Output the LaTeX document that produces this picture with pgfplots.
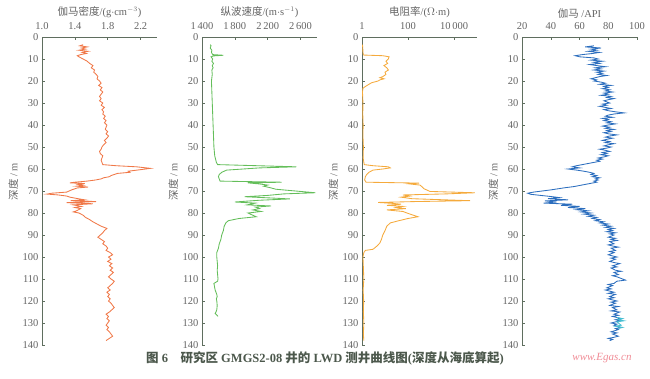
\documentclass[border=0pt]{standalone}
\usepackage{pgfplots}
\pgfplotsset{compat=1.18}
\usepackage{fontspec}
\setmainfont{Liberation Serif}
\newfontfamily\cjk{Noto Sans CJK SC}
\definecolor{axc}{RGB}{95,110,95}
\definecolor{txc}{RGB}{100,100,100}
\definecolor{cden}{RGB}{240,120,72}
\definecolor{cvel}{RGB}{100,190,90}
\definecolor{cres}{RGB}{245,170,60}
\definecolor{cgam}{RGB}{44,110,190}
\definecolor{ccyan}{RGB}{70,190,210}
\definecolor{wm}{RGB}{240,140,150}
\pgfplotsset{
  logpanel/.style={
    scale only axis, width=115pt, height=308pt,
    anchor=north west,
    ymin=0, ymax=140, y dir=reverse,
    ytick={0,10,...,140},
    axis x line*=top, axis y line*=left,
    axis line style={axc, line width=0.6pt, -},
    tick style={axc, line width=0.5pt},
    tick align=inside, major tick length=3pt,
    xminorticks=false, yminorticks=false,
    ticklabel style={font=\fontsize{10.5}{12}\selectfont, text=txc},
    /pgf/number format/assume math mode=true,
    xticklabel style={yshift=3.5pt},
    xlabel style={font=\fontsize{10.5}{12}\selectfont, text=txc, yshift=-2pt},
    ylabel={{\cjk 深度} / m},
    ylabel style={font=\fontsize{10.5}{12}\selectfont, text=txc, at={(axis description cs:-0.25,0.53)}, anchor=center, rotate=0},
    clip=false,
  }
}
\begin{document}
\begin{tikzpicture}
\useasboundingbox (0,0) rectangle (650pt,378pt);
% panel 1 density
\begin{axis}[logpanel, at={(42pt,341pt)},
  xmin=1, xmax=2.4, xtick={1,1.4,1.8,2.2}, xticklabels={1.0,1.4,1.8,2.2},
  xlabel={{\cjk 伽马密度}/(g$\cdot$cm$^{-3}$)}]
\addplot[cden, line width=0.85pt] coordinates {
(1.50,3.5)(1.46,4)(1.55,4.5)(1.48,5)(1.53,5.5)(1.45,6)(1.56,6.5)(1.49,7)(1.54,7.5)(1.47,8)(1.43,8.5)(1.45,9)(1.50,10)(1.55,11)(1.58,12)(1.62,13)(1.60,14)(1.64,15)(1.63,16)(1.66,17)(1.68,18)(1.67,19)(1.70,20)(1.72,21)(1.69,22)(1.73,23)(1.71,24)(1.74,25)(1.72,26)(1.70,27)(1.72,28)(1.70,29)(1.74,30)(1.72,31)(1.76,32)(1.73,33)(1.75,34)(1.74,35)(1.77,36)(1.75,37)(1.78,38)(1.76,39)(1.79,40)(1.78,41)(1.77,42)(1.80,43)(1.78,44)(1.81,45)(1.79,46)(1.76,47)(1.78,48)(1.75,49)(1.73,50)(1.72,51)(1.70,52)(1.71,53)(1.74,54)(1.73,55)(1.72,56)(1.73,57)(1.74,58)(1.90,58.5)(2.15,59)(2.32,59.7)(2.20,60.3)(2.05,61)(2.07,61.5)(1.92,62)(1.88,62.5)(1.84,63)(1.82,63.5)(1.75,64)(1.72,64.5)(1.65,65)(1.55,65.5)(1.40,66)(1.34,66.3)(1.52,66.6)(1.44,67)(1.50,67.4)(1.42,67.8)(1.56,68.2)(1.43,68.6)(1.36,69.5)(1.30,70.5)(1.12,71)(1.06,71.4)(1.20,71.8)(1.30,72.3)(1.34,72.8)(1.44,73.5)(1.52,74)(1.35,74.4)(1.66,74.8)(1.30,75.3)(1.62,75.8)(1.38,76.3)(1.48,77)(1.40,77.5)(1.47,78)(1.42,79)(1.38,79.5)(1.45,80)(1.50,81)(1.53,82)(1.58,83)(1.62,84)(1.67,85)(1.72,86)(1.79,87)(1.76,88)(1.74,89)(1.71,90)(1.68,91)(1.72,92)(1.76,93)(1.74,94)(1.78,95)(1.80,96)(1.78,97)(1.83,98)(1.86,99)(1.81,100)(1.84,101)(1.80,102)(1.85,103)(1.82,104)(1.86,105)(1.83,106)(1.87,107)(1.84,108)(1.81,109)(1.84,110)(1.88,111)(1.86,112)(1.83,113)(1.80,114)(1.83,115)(1.79,116)(1.82,117)(1.80,118)(1.83,119)(1.81,120)(1.84,121)(1.86,122)(1.88,123)(1.85,124)(1.82,125)(1.78,126)(1.81,127)(1.79,128)(1.82,129)(1.80,130)(1.78,131)(1.81,132)(1.79,133)(1.82,134)(1.84,135)(1.86,136)(1.82,137)(1.78,138)
};
\end{axis}
% panel 2 velocity
\begin{axis}[logpanel, at={(202pt,341pt)},
  xmin=1400, xmax=2800, xtick={1400,1800,2200,2600}, xticklabels={1\,400,1\,800,2\,200,2\,600},
  xlabel={{\cjk 纵波速度}/(m$\cdot$s$^{-1}$)}]
\addplot[cvel, line width=0.85pt] coordinates {
(1500,3.5)(1510,4)(1500,5)(1520,6)(1515,7)(1530,8)(1660,8.3)(1540,8.6)(1510,9)(1530,10)(1520,11)(1540,12)(1525,13)(1535,14)(1520,15)(1525,17)(1515,20)(1520,25)(1525,30)(1530,35)(1535,40)(1540,45)(1545,50)(1555,54)(1575,57)(1590,58)(2550,59)(2100,59.5)(1700,60.5)(1640,61.5)(1610,62.5)(1600,63.5)(1610,64.5)(1620,65.5)(2370,66)(1960,66.3)(2100,66.8)(2200,67.3)(2150,67.8)(2230,68.5)(2300,69.2)(2600,70.2)(2780,70.8)(2400,71.3)(2200,72)(1920,72.6)(2200,73.1)(2470,73.6)(2100,74.2)(1800,75)(2050,75.5)(1950,76.3)(2240,76.8)(2050,77.3)(2100,78)(2020,78.6)(2120,79.3)(1960,80)(2000,80.7)(2060,81.7)(1850,82.5)(1720,83.5)(1690,84.5)(1670,86)(1660,88)(1650,89)(1640,90)(1630,92)(1610,94)(1600,96)(1590,97)(1580,98)(1580,100)(1585,102)(1590,104)(1585,106)(1590,108)(1595,110)(1590,111)(1545,112)(1550,113)(1560,115)(1570,116)(1580,117)(1585,118)(1575,119)(1580,120)(1585,122)(1580,124)(1570,125)(1560,125.6)(1575,126.2)(1595,127)
};
\end{axis}
% panel 3 resistivity
\begin{axis}[logpanel, at={(362pt,341pt)},
  xmode=log, xmin=1, xmax=100000, xtick={1,100,10000}, xticklabels={1,100,10\,000},
  xlabel={{\cjk 电阻率}/($\Omega\cdot$m)}]
\addplot[cres, line width=0.85pt] coordinates {
(1.05,3.5)(1.08,5)(1.1,7)(1.15,8.2)(8,8.5)(15,9)(14,10)(11,11)(13,12)(9,13)(12,14)(14,15)(10,16)(11,17)(8,18)(6,18.5)(9,19)(6,19.5)(5,20)(2.6,20.8)(2,21.5)(1.4,22.5)(1.1,23.3)(1.05,25)(1.1,30)(1.08,35)(1.12,40)(1.1,45)(1.15,50)(1.12,55)(1.25,58)(3,58.5)(14,59)(17,59.5)(8,60)(3,60.5)(2,61.5)(1.6,62.5)(1.4,63.5)(1.3,65)(1.5,66)(300,66.4)(120,66.8)(330,67.3)(400,68)(500,69)(650,69.5)(900,70.2)(80000,70.8)(5000,71.3)(60,71.8)(120,72.3)(50,72.8)(150,73.5)(50000,74.4)(200,74.8)(5,75.2)(20,75.6)(50,76)(12,76.5)(60,77)(30,77.5)(80,78)(12,78.6)(60,79.3)(90,80)(150,80.8)(270,81.7)(100,82.5)(40,83.5)(17,84.5)(12,86)(10,88)(8,90)(7,92)(6,93.6)(4.5,95)(3,96.5)(1.4,97)(1.2,98)(1.1,100)(1.15,105)(1.2,110)(1.12,115)(1.18,120)(1.15,125)(1.2,130)(1.15,135)(1.2,138)
};
\end{axis}
% panel 4 gamma
\begin{axis}[logpanel, at={(522pt,341pt)},
  xmin=20, xmax=100, xtick={20,40,60,80,100},
  xlabel={{\cjk 伽马} /API}]
\addplot[cgam, line width=0.85pt] coordinates {
(70,4)(64,4.5)(75,5)(68,5.5)(72,6)(66,6.5)(74,7)(69,7.5)(62,8)(57,8.5)(60,9)(70,9.5)(73,10)(68,10.5)(76,11)(70,11.5)(74,12)(67,12.5)(72,13)(78,13.5)(71,14)(75,14.5)(70,15)(77,15.5)(72,16)(76,16.5)(73,17)(79,17.5)(74,18)(71,18.5)(68,19)(72,19.5)(70,20)(75,20.5)(78,21)(74,21.5)(82,22)(77,22.5)(80,23)(76,23.5)(81,24)(78,24.5)(83,25)(77,25.5)(80,26)(75,26.5)(82,27)(79,27.5)(84,28)(80,28.5)(77,29)(81,30)(76,30.5)(79,31)(74,31.5)(78,32)(82,32.5)(77,33)(80,33.5)(85,34)(91,34.5)(84,35)(80,35.5)(78,36)(83,36.5)(76,37)(80,37.5)(77,38)(82,38.5)(79,39)(85,39.5)(80,40)(76,40.5)(81,41)(78,41.5)(84,42)(79,42.5)(82,43)(77,43.5)(80,44)(86,44.5)(81,45)(78,45.5)(83,46)(79,46.5)(76,47)(81,47.5)(78,48)(84,48.5)(80,49)(77,49.5)(82,50)(79,50.5)(74,51)(78,51.5)(81,52)(76,52.5)(79,53)(75,53.5)(80,54)(77,54.5)(73,55)(76,55.5)(72,56)(74,56.5)(70,57)(66,57.5)(62,58)(58,58.5)(55,59)(60,59.5)(52,60)(58,60.5)(63,61)(67,61.5)(70,62)(68,62.5)(72,63)(69,63.5)(74,64)(71,64.5)(73,65)(70,65.5)(72,66)(68,66.5)(64,67)(60,67.5)(56,68)(50,68.5)(45,69)(40,69.5)(34,70)(28,70.5)(24,71)(26,71.5)(33,72)(40,72.5)(46,73)(38,73.5)(52,74)(36,74.5)(44,75)(35,75.5)(55,76)(47,76.5)(60,77)(52,77.5)(64,78)(58,78.5)(66,79)(61,79.5)(68,80)(63,80.5)(70,81)(66,81.5)(72,82)(69,82.5)(74,83)(71,83.5)(77,84)(74,84.5)(80,85)(76,85.5)(82,86)(78,86.5)(84,87)(80,87.5)(83,88)(79,88.5)(85,89)(81,89.5)(84,90)(80,91)(85,91.5)(82,92)(86,92.5)(81,93)(84,94)(80,94.5)(83,95)(87,95.5)(82,96)(85,97)(81,97.5)(84,98)(80,99)(83,99.5)(86,100)(82,100.5)(85,101)(81,102)(84,102.5)(88,103)(83,104)(86,104.5)(82,105)(85,106)(89,106.5)(84,107)(87,108)(83,108.5)(86,109)(90,110)(92,110.5)(86,111)(84,112)(80,112.5)(83,113)(79,114)(82,114.5)(78,115)(84,116)(80,116.5)(85,117)(81,118)(84,118.5)(80,119)(86,120)(82,120.5)(85,121)(81,122)(87,122.5)(83,123)(86,124)(82,124.5)(88,125)(84,126)(87,126.5)(83,127)(89,128)(85,128.5)(88,129)(82,130)(86,130.5)(84,131)(89,132)(85,132.5)(87,133)(82,134)(86,134.5)(83,135)(87,136)(84,136.5)(80,137)(83,137.5)(81,138)
};
\addplot[ccyan, line width=0.85pt] coordinates {
(86,127.5)(90,128)(87,128.5)(91,129)(86,129.5)(89,131)(85,131.5)(90,132)(87,132.5)
};
\end{axis}
\node[font=\bfseries\fontsize{12.5}{14}\selectfont, text=axc!80!black] at (325pt,20pt) {{\cjk 图} 6\quad {\cjk 研究区} GMGS2-08 {\cjk 井的} LWD {\cjk 测井曲线图}({\cjk 深度从海底算起})};
\node[font=\itshape\fontsize{11}{12}\selectfont, text=wm] at (602pt,20pt) {www.Egas.cn};
\end{tikzpicture}
\end{document}
